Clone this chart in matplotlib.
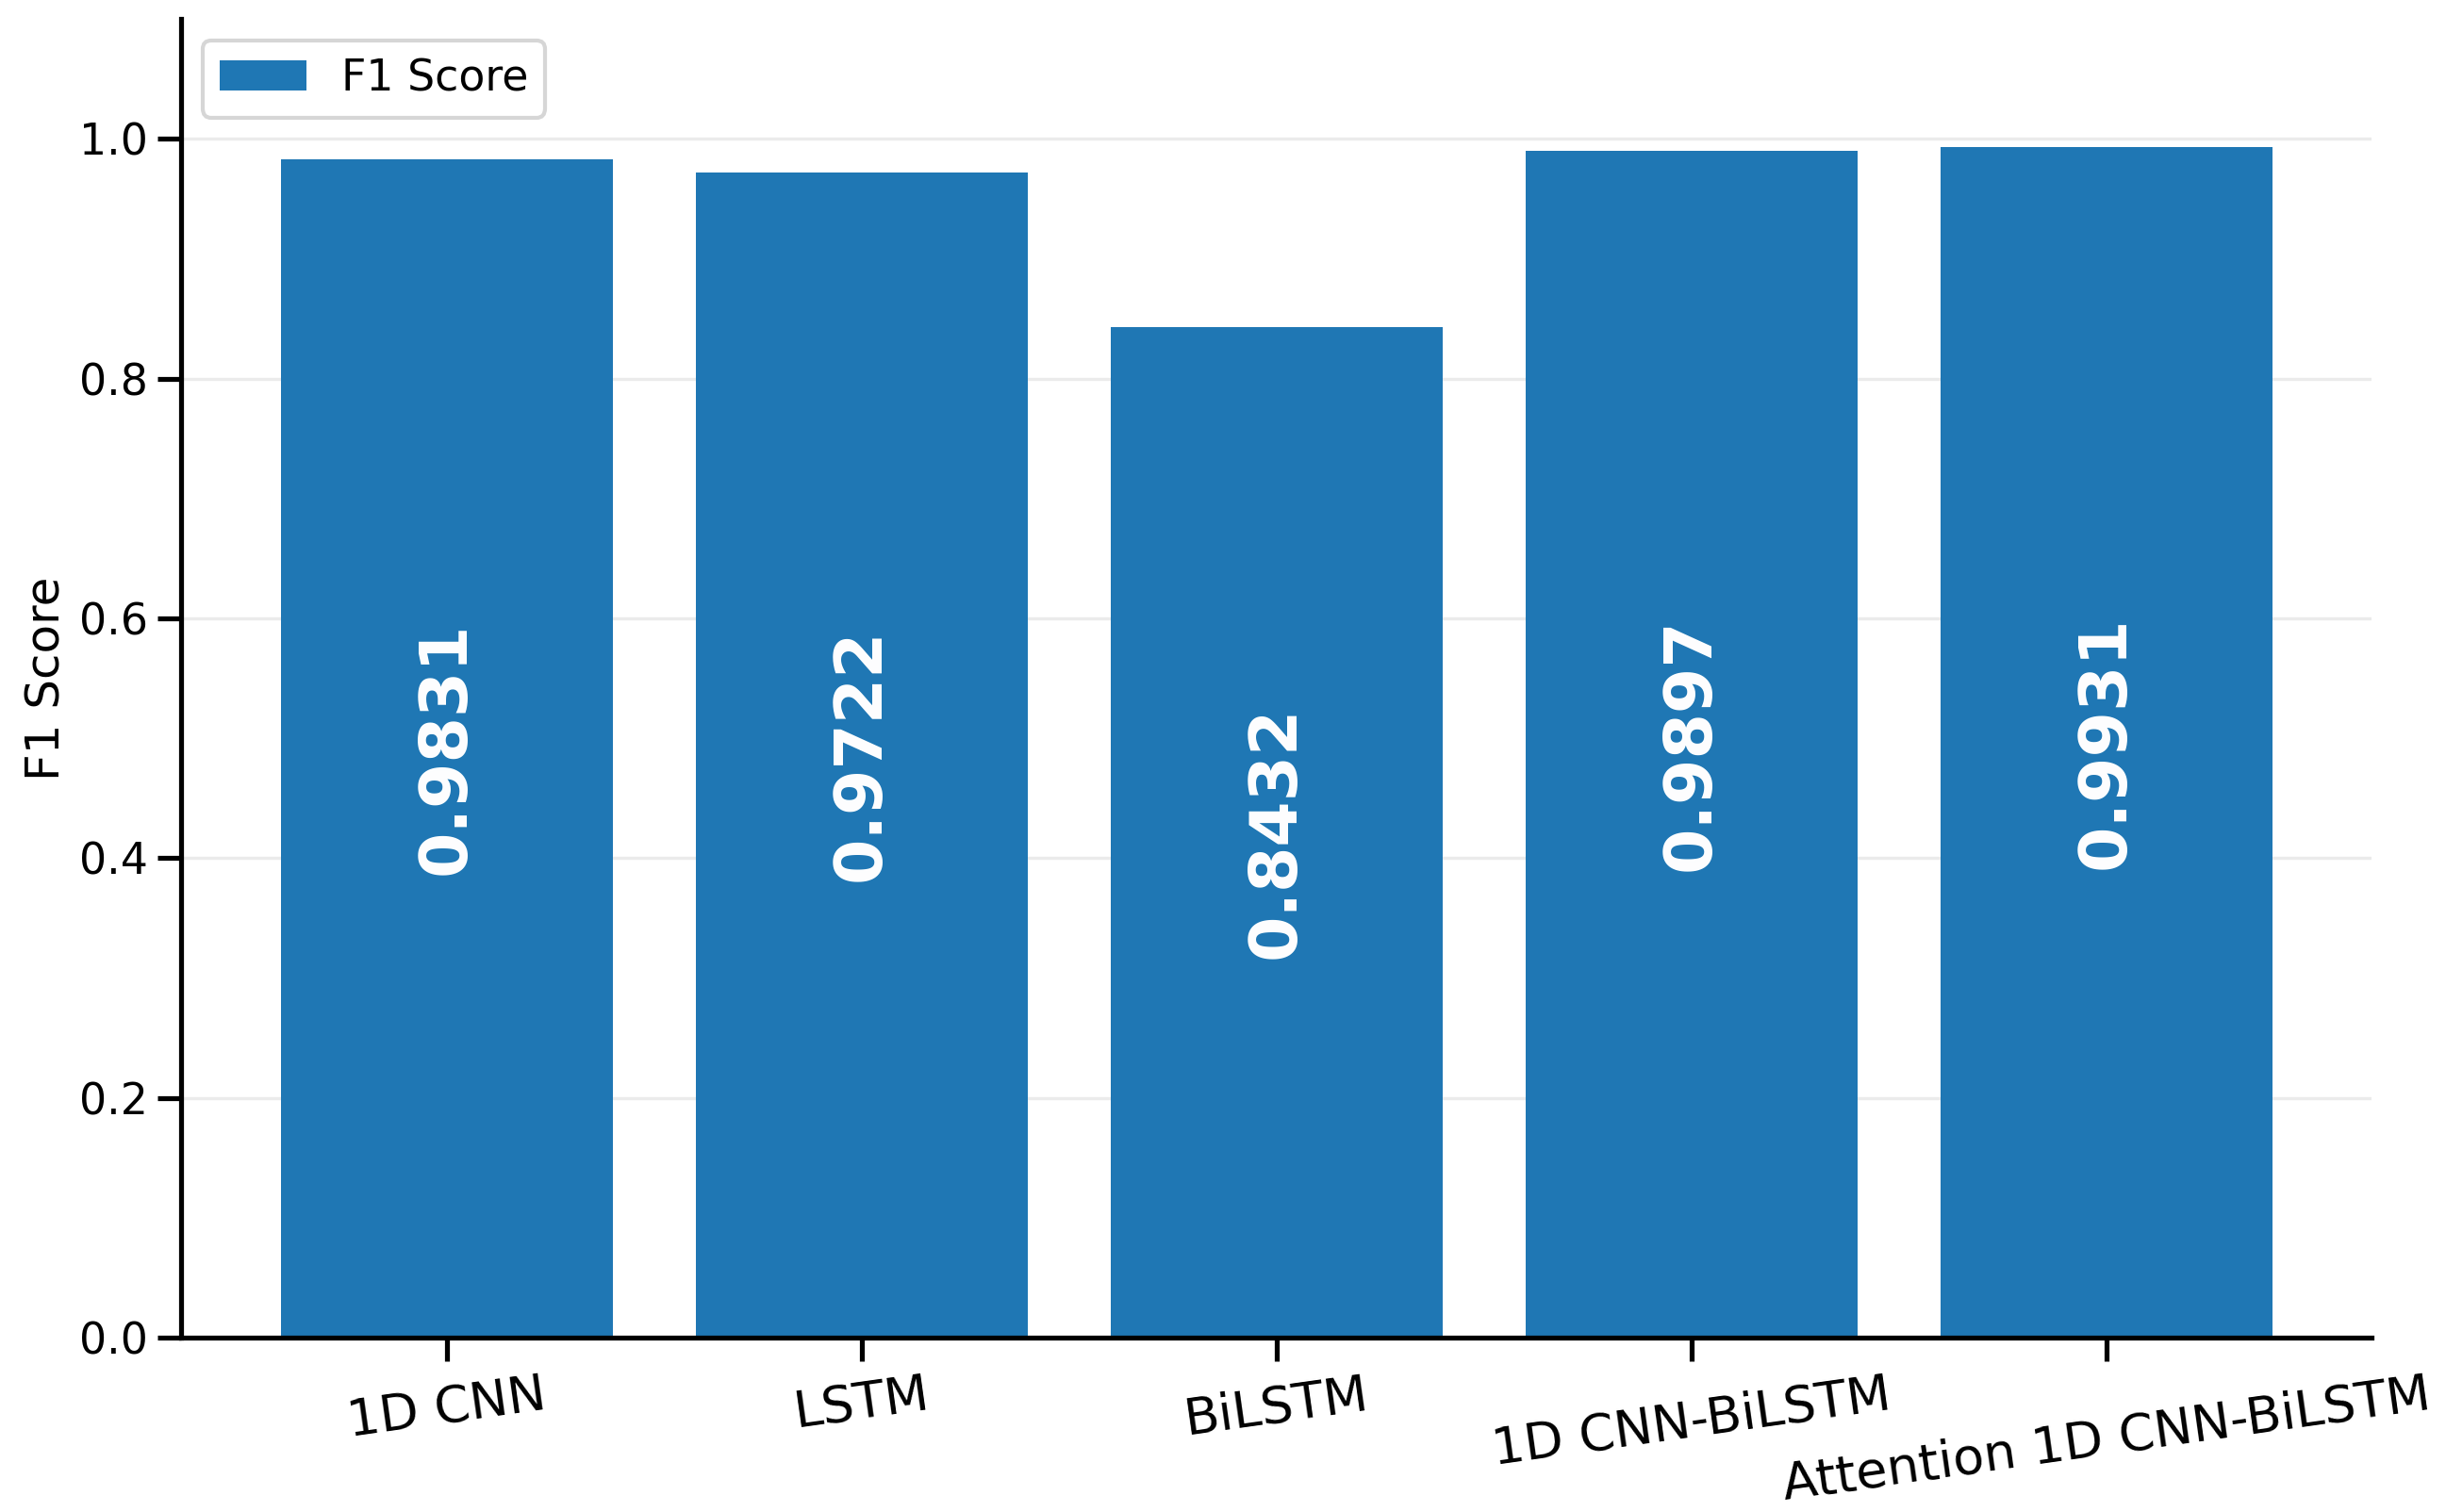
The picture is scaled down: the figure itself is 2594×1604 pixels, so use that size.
import matplotlib
matplotlib.use("Agg")
import matplotlib.pyplot as plt
import seaborn as sns

models = ["1D CNN", "LSTM", "BiLSTM", "1D CNN-BiLSTM", "Attention 1D CNN-BiLSTM"]
f1_scores = [0.9831, 0.9722, 0.8432, 0.9897, 0.9931]

sns.set_context("talk")

fig, ax = plt.subplots(figsize=(12.97, 8.02), dpi=200)
fig.subplots_adjust(left=0.074, right=0.9696, bottom=0.1153, top=0.9875)

bars = ax.bar(models, f1_scores, width=0.8, color="#1f77b4", label="F1 Score", zorder=2)

# values written inside the bars, rotated
for rect, val in zip(bars, f1_scores):
    ax.text(rect.get_x() + rect.get_width() / 2, val / 2, f"{val:.4f}",
            rotation=90, ha="center", va="center", color="white",
            fontsize=25, fontweight="bold", zorder=3)

ax.set_ylim(0, 1.1)
ax.set_ylabel("F1 Score")
ax.yaxis.grid(True, color="#b0b0b0", alpha=0.25, linewidth=1.2, zorder=0)
ax.set_axisbelow(True)
ax.spines["top"].set_visible(False)
ax.spines["right"].set_visible(False)
plt.setp(ax.get_xticklabels(), rotation=8, ha="center", fontsize=19.5)

ax.legend(loc="upper left")

fig.savefig("out.png", dpi=200)
